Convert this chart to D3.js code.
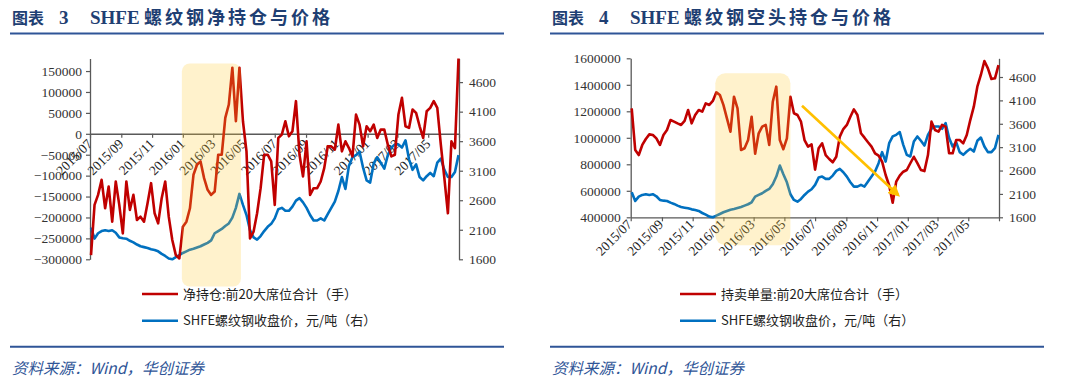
<!DOCTYPE html>
<html>
<head>
<meta charset="utf-8">
<script src="https://cdn.jsdelivr.net/npm/d3@7"></script>
<style>
  body { margin: 0; background: #fff; }
  svg { display: block; }
</style>
</head>
<body>
<svg id="chart" width="1080" height="385"></svg>
<script>
// weekly readings (Fridays), first week and count
const firstWeek = new Date(2015, 6, 3);
const weekCount = 105;

// SHFE rebar close, yuan/ton (right axis in both charts)
const price = [
  2135, 1950, 2041, 2078, 2093, 2078, 2093, 2050, 1971, 1956,
  1949, 1914, 1886, 1850, 1821, 1806, 1792, 1770, 1756, 1735,
  1692, 1657, 1614, 1600, 1635, 1671, 1707, 1735, 1763, 1778,
  1799, 1821, 1850, 1879, 1921, 2041, 2078, 2114, 2164, 2207,
  2306, 2471, 2707, 2521, 2349, 2093, 1971, 1934, 1993, 2078,
  2150, 2200, 2293, 2449, 2471, 2421, 2421, 2492, 2593, 2636,
  2564, 2471, 2350, 2257, 2257, 2293, 2257, 2364, 2471, 2577,
  2757, 2993, 2792, 3186, 3329, 3364, 3421, 3150, 2936, 2900,
  3222, 3329, 3236, 3134, 3364, 3493, 3543, 3543, 3493, 3614,
  3293, 3115, 3207, 2993, 2936, 3007, 3064, 3007, 3236, 3306,
  3115, 2993, 2993, 3079, 3364
];

// net position, top 20 members (lots)
const netPos = [
  -290000, -170000, -146000, -110000, -178000, -126000, -210000, -114000, -170000, -238000,
  -114000, -182000, -146000, -206000, -198000, -210000, -166000, -118000, -190000, -214000,
  -154000, -114000, -198000, -254000, -290000, -298000, -222000, -210000, -178000, -98000,
  -74000, -66000, -106000, -134000, -146000, -138000, -50000, -50000, 38000, 70000,
  158000, 30000, 158000, 30000, -42000, -250000, -234000, -190000, -130000, -50000,
  -50000, -66000, -170000, -10000, -2000, 30000, -6000, 6000, 78000, -50000,
  -102000, -18000, -146000, -130000, -130000, -114000, -82000, -30000, -30000, -38000,
  22000, -42000, -18000, -34000, -54000, 46000, 22000, -30000, 18000, 6000,
  22000, -10000, 10000, 10000, -26000, -54000, -50000, 46000, 86000, 18000,
  14000, 58000, 50000, 18000, -10000, 54000, 62000, 78000, 62000, -26000,
  -106000, -190000, -18000, -34000, 180000
];

// short position, top 20 members (lots)
const shortPos = [
  1222000, 908000, 870000, 946000, 991000, 1026000, 1021000, 996000, 946000, 1021000,
  1059000, 1134000, 1122000, 1109000, 1097000, 1127000, 1210000, 1109000, 1172000, 1210000,
  1197000, 1260000, 1248000, 1278000, 1343000, 1323000, 1248000, 1147000, 1046000, 1310000,
  1222000, 908000, 921000, 983000, 1159000, 880000, 1034000, 1084000, 1097000, 946000,
  1272000, 1386000, 983000, 914000, 996000, 1310000, 1185000, 1172000, 1122000, 983000,
  933000, 950000, 760000, 921000, 958000, 870000, 840000, 815000, 857000, 1009000,
  1066000, 1097000, 1159000, 1215000, 1172000, 1034000, 1001000, 966000, 933000, 883000,
  865000, 820000, 719000, 640000, 510000, 669000, 714000, 744000, 757000, 808000,
  857000, 808000, 757000, 749000, 870000, 1122000, 1059000, 1046000, 1097000, 1084000,
  883000, 883000, 983000, 983000, 958000, 1021000, 1134000, 1235000, 1386000, 1474000,
  1580000, 1524000, 1444000, 1449000, 1549000
];

const netTicks = [-300000, -250000, -200000, -150000, -100000, -50000, 0, 50000, 100000, 150000];
const shortTicks = [400000, 600000, 800000, 1000000, 1200000, 1400000, 1600000];
const priceTicks = [1600, 2100, 2600, 3100, 3600, 4100, 4600];

const titles = ["图表 3", "图表 4"];
const titleTexts = ["螺纹钢净持仓与价格", "螺纹钢空头持仓与价格"];
const legendRed = ["净持仓:前20大席位合计（手）", "持卖单量:前20大席位合计（手）"];
const legendBlue = "SHFE螺纹钢收盘价，元/吨（右）";
const sourceText = "资料来源：Wind，华创证券";

// shaded periods and trend arrow, in data terms
const highlightNet = { from: new Date(2015, 11, 30), to: new Date(2016, 3, 25), top: 168000, bottom: -365000 };
const highlightShort = { from: new Date(2015, 11, 16), to: new Date(2016, 4, 13), top: 1487000, bottom: 190000 };
const trendArrow = { from: [new Date(2016, 5, 5), 1242000], to: [new Date(2016, 11, 13), 568000] };

const weeks = d3.range(weekCount).map(i => d3.timeDay.offset(firstWeek, 7 * i));
const monthTicks = d3.timeMonth.every(2).range(new Date(2015, 6, 1), new Date(2017, 6, 2));

const RED = "#c00000", BLUE = "#0070c0", AXIS = "#595959", NAVY = "#1f3f73", RULE = "#2f5597";
const NUM_FONT = "'Liberation Serif', 'Times New Roman', serif";
const CJK_FONT = "'Noto Sans CJK SC', 'Noto Sans', sans-serif";

const svg = d3.select("#chart");
const fmtMonth = d3.timeFormat("%Y/%m");
const fmtNum = d3.format("d");

function header(ox, idx) {
  const t = svg.append("text").attr("y", 24).attr("fill", NAVY).attr("font-weight", "bold");
  t.append("tspan").attr("x", ox + 12).attr("font-family", CJK_FONT).attr("font-size", 16)
    .text(titles[idx].split(" ")[0]);
  t.append("tspan").attr("x", ox + 59).attr("font-family", NUM_FONT).attr("font-size", 19)
    .text(titles[idx].split(" ")[1]);
  t.append("tspan").attr("x", ox + 90).attr("font-family", NUM_FONT).attr("font-size", 19).text("SHFE");
  t.append("tspan").attr("x", ox + 144).attr("font-family", CJK_FONT).attr("font-size", 18)
    .attr("letter-spacing", 3).text(titleTexts[idx]);

  svg.append("line").attr("x1", ox + 10).attr("x2", ox + 504).attr("y1", 33.5).attr("y2", 33.5)
    .attr("stroke", RULE).attr("stroke-width", 2);
  svg.append("line").attr("x1", ox + 10).attr("x2", ox + 504).attr("y1", 346.7).attr("y2", 346.7)
    .attr("stroke", RULE).attr("stroke-width", 2);
  svg.append("text").attr("x", ox + 12).attr("y", 374).attr("fill", "#2f5597")
    .attr("font-family", CJK_FONT).attr("font-size", 15.5).attr("font-style", "italic")
    .text(sourceText);
}

function legend(ox, idx) {
  const lx = idx === 0 ? 142 : 140;
  const rows = [[legendRed[idx], RED, 294], [legendBlue, BLUE, 320.7]];
  rows.forEach(([label, color, y]) => {
    svg.append("line").attr("x1", ox + lx).attr("x2", ox + lx + 36).attr("y1", y).attr("y2", y)
      .attr("stroke", color).attr("stroke-width", 2.5);
    svg.append("text").attr("x", ox + lx + 41).attr("y", y + 4.5).attr("fill", "#222")
      .attr("font-family", CJK_FONT).attr("font-size", 13).text(label);
  });
}

function styleAxis(g) {
  g.select(".domain").attr("stroke", AXIS).attr("stroke-width", 1.3);
  g.selectAll(".tick line").attr("stroke", AXIS).attr("stroke-width", 1.2);
  g.selectAll(".tick text").attr("fill", "#333").attr("font-family", NUM_FONT).attr("font-size", 13.5);
}

function lineFor(x, y, values) {
  return d3.line().x((d, i) => x(weeks[i])).y(d => y(d))(values);
}

// ---------- chart 3: net position ----------
(function () {
  const ox = 0;
  const x = d3.scaleTime().domain([new Date(2015, 6, 1), new Date(2017, 6, 1)]).range([90, 459]);
  const y = d3.scaleLinear().domain([-300000, 180000]).range([259.3, 58.5]);
  const yP = d3.scaleLinear().domain([1600, 5000]).range([259.3, 58.5]);
  header(ox, 0);

  const gl = svg.append("g").attr("transform", "translate(90,0)")
    .call(d3.axisLeft(y).tickValues(netTicks).tickFormat(fmtNum).tickSize(4).tickSizeOuter(0).tickPadding(4));
  styleAxis(gl);
  const gr = svg.append("g").attr("transform", "translate(459,0)")
    .call(d3.axisRight(yP).tickValues(priceTicks).tickFormat(fmtNum).tickSize(4).tickSizeOuter(0).tickPadding(6));
  styleAxis(gr);

  const y0 = y(0);
  const gx = svg.append("g").attr("transform", `translate(0,${y0})`)
    .call(d3.axisBottom(x).tickValues(monthTicks).tickSize(4).tickSizeOuter(0).tickFormat(""));
  styleAxis(gx);
  gx.select(".domain").attr("stroke-width", 1.6);
  svg.append("g").selectAll("text").data(monthTicks.slice(0, -1)).join("text")
    .attr("transform", d => `translate(${x(d) + 3},${y0 + 11}) rotate(-45)`)
    .attr("text-anchor", "end").attr("fill", "#222")
    .attr("font-family", NUM_FONT).attr("font-size", 13.5).text(fmtMonth);

  svg.append("path").attr("d", lineFor(x, yP, price)).attr("fill", "none")
    .attr("stroke", BLUE).attr("stroke-width", 2.6).attr("stroke-linejoin", "round");
  svg.append("path").attr("d", lineFor(x, y, netPos)).attr("fill", "none")
    .attr("stroke", RED).attr("stroke-width", 2.6).attr("stroke-linejoin", "round");

  svg.append("rect").attr("x", x(highlightNet.from)).attr("y", y(highlightNet.top))
    .attr("width", x(highlightNet.to) - x(highlightNet.from))
    .attr("height", y(highlightNet.bottom) - y(highlightNet.top))
    .attr("rx", 8).attr("fill", "#ffcc33").attr("fill-opacity", 0.25);

  legend(ox, 0);
})();

// ---------- chart 4: short position ----------
(function () {
  const ox = 540;
  const x = d3.scaleTime().domain([new Date(2015, 6, 1), new Date(2017, 6, 1)]).range([630.7, 999]);
  const y = d3.scaleLinear().domain([400000, 1600000]).range([217.3, 58.3]);
  const yP = d3.scaleLinear().domain([1600, 5000]).range([217.3, 58.3]);
  header(ox, 1);

  const gl = svg.append("g").attr("transform", "translate(630.7,0)")
    .call(d3.axisLeft(y).tickValues(shortTicks).tickFormat(fmtNum).tickSize(4).tickSizeOuter(0).tickPadding(6));
  styleAxis(gl);
  const gr = svg.append("g").attr("transform", "translate(999,0)")
    .call(d3.axisRight(yP).tickValues(priceTicks).tickFormat(fmtNum).tickSize(4).tickSizeOuter(0).tickPadding(6));
  styleAxis(gr);

  const gx = svg.append("g").attr("transform", "translate(0,217.3)")
    .call(d3.axisBottom(x).tickValues(monthTicks).tickSize(4).tickSizeOuter(0).tickFormat(""));
  styleAxis(gx);
  svg.append("g").selectAll("text").data(monthTicks.slice(0, -1)).join("text")
    .attr("transform", d => `translate(${x(d) + 2},${217.3 + 8}) rotate(-45)`)
    .attr("text-anchor", "end").attr("fill", "#222")
    .attr("font-family", NUM_FONT).attr("font-size", 13.5).text(fmtMonth);

  svg.append("path").attr("d", lineFor(x, yP, price)).attr("fill", "none")
    .attr("stroke", BLUE).attr("stroke-width", 2.6).attr("stroke-linejoin", "round");
  svg.append("path").attr("d", lineFor(x, y, shortPos)).attr("fill", "none")
    .attr("stroke", RED).attr("stroke-width", 2.6).attr("stroke-linejoin", "round");

  svg.append("rect").attr("x", x(highlightShort.from)).attr("y", y(highlightShort.top))
    .attr("width", x(highlightShort.to) - x(highlightShort.from))
    .attr("height", y(highlightShort.bottom) - y(highlightShort.top))
    .attr("rx", 10).attr("fill", "#ffcc33").attr("fill-opacity", 0.25);

  // trend arrow
  const defs = svg.append("defs");
  defs.append("marker").attr("id", "arrowHead").attr("viewBox", "0 0 10 10")
    .attr("refX", 8).attr("refY", 5).attr("markerWidth", 4.5).attr("markerHeight", 4.5)
    .attr("orient", "auto")
    .append("path").attr("d", "M0,0L10,5L0,10z").attr("fill", "#ffc000");
  svg.append("line")
    .attr("x1", x(trendArrow.from[0])).attr("y1", y(trendArrow.from[1]))
    .attr("x2", x(trendArrow.to[0])).attr("y2", y(trendArrow.to[1]))
    .attr("stroke", "#ffc000").attr("stroke-width", 2.6).attr("marker-end", "url(#arrowHead)");

  legend(ox, 1);
})();
</script>
</body>
</html>
